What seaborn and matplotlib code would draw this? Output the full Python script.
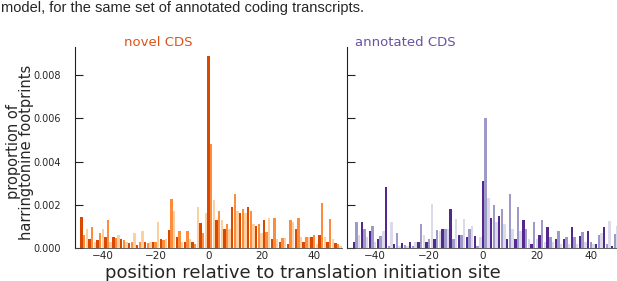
import seaborn as sns
import matplotlib.pyplot as plt
import pandas as pd

# positions relative to the start codon
positions = list(range(-48, 51))

novel_cds = [
    0.00143, 0.0006, 0.0009, 0.0004, 0.00095, 0.0003, 0.00035, 0.0007, 0.0009, 0.0005,
    0.0013, 0.0003, 0.0005, 0.00045, 0.0006, 0.0004, 0.00035, 0.0003, 0.00025, 0.0003,
    0.0007, 0.00015, 0.0003, 0.0008, 0.0003, 0.00025, 0.0003, 0.0003, 0.0003, 0.0012,
    0.0004, 0.00035, 0.0004, 0.00085, 0.00225, 0.0017, 0.0005, 0.0008, 0.0003, 0.0003,
    0.0008, 0.0004, 0.0003, 0.0002, 0.0019, 0.00115, 0.0007, 0.0016, 0.0089, 0.0048,
    0.0022, 0.0013, 0.0017, 0.0013, 0.0009, 0.0011, 0.0009, 0.0019, 0.0025, 0.0017,
    0.0016, 0.0018, 0.0016, 0.0019, 0.0017, 0.0011, 0.0010, 0.0011, 0.0007, 0.0013,
    0.00075, 0.0014, 0.0004, 0.0014, 0.0004, 0.0003, 0.00045, 0.00045, 0.0002, 0.0013,
    0.0012, 0.0009, 0.0014, 0.0005, 0.0003, 0.0005, 0.0005, 0.0005, 0.0006, 0.0002,
    0.0006, 0.0021, 0.0005, 0.0003, 0.00135, 0.0004, 0.00025, 0.0002, 0.0001,
]

annotated_cds = [
    0.0003, 0.0012, 0.0006, 0.0012, 0.0009, 0.0005, 0.0008, 0.0010, 0.0003, 0.0004,
    0.00055, 0.0008, 0.0028, 0.0001, 0.0012, 0.0002, 0.0007, 0.0001, 0.00025, 0.00015,
    0.0001, 0.0003, 0.0001, 0.0003, 0.0003, 0.0011, 0.0006, 0.0003, 0.0004, 0.00205,
    0.0004, 0.00085, 0.0008, 0.00088, 0.0009, 0.0009, 0.0018, 0.0004, 0.00135, 0.0006,
    0.0006, 0.00135, 0.0005, 0.0009, 0.0010, 0.00055, 0.0001, 0.0005, 0.0031, 0.0060,
    0.0023, 0.0014, 0.0020, 0.0012, 0.0015, 0.0018, 0.0011, 0.0004, 0.0025, 0.0009,
    0.0004, 0.0019, 0.0008, 0.0013, 0.0009, 0.0004, 0.0002, 0.0012, 0.0004, 0.0006,
    0.0013, 0.0003, 0.00095, 0.0005, 0.0003, 0.0004, 0.00077, 0.0002, 0.0004, 0.0005,
    0.0002, 0.00095, 0.0005, 0.0002, 0.00055, 0.00075, 0.0003, 0.0008, 0.0003, 0.0002,
    0.0002, 0.0006, 0.0007, 0.00095, 0.0002, 0.00125, 0.0001, 0.00065, 0.0010,
]

orange = ["#d94801", "#fd8d3c", "#fdd0a2"]
purple = ["#54278f", "#9e9ac8", "#dadaeb"]

sns.set_theme(style="white")
plt.rcParams["font.family"] = ["DejaVu Sans"]

fig = plt.figure(figsize=(6.17, 2.81), dpi=100)
ax1 = fig.add_axes([75 / 617, 33 / 281, 267 / 617, 201 / 281])
ax2 = fig.add_axes([347 / 617, 33 / 281, 272 / 617, 201 / 281])

for ax, vals, pal in [(ax1, novel_cds, orange), (ax2, annotated_cds, purple)]:
    df = pd.DataFrame({"pos": positions, "val": vals})
    df["frame"] = df["pos"] % 3
    sns.barplot(data=df, x="pos", y="val", hue="frame", palette=pal,
                native_scale=True, dodge=False, width=0.9, saturation=1,
                linewidth=0, edgecolor="none", legend=False, ax=ax)
    ax.set_xlim(-50.5, 50.5)
    ax.set_ylim(0, 0.0093)
    ax.set_xticks([-40, -20, 0, 20, 40])
    ax.set_xticklabels(["\u221240", "\u221220", "0", "20", "40"])
    ax.set_yticks([0, 0.002, 0.004, 0.006, 0.008])
    ax.set_xlabel("")
    ax.set_ylabel("")
    for s in ["top", "right"]:
        ax.spines[s].set_visible(False)
    ax.spines["left"].set_color("#222222")
    ax.spines["left"].set_linewidth(0.8)
    ax.spines["bottom"].set_color("#444444")
    ax.spines["bottom"].set_linewidth(0.6)
    ax.tick_params(axis="y", direction="in", length=6, width=0.8, pad=10,
                   color="#222222", labelsize=7, left=True)
    ax.tick_params(axis="x", length=0, pad=2.5, labelsize=7.5)

ax1.set_yticklabels(["0.000", "0.002", "0.004", "0.006", "0.008"])
ax2.set_yticklabels([])

fig.text(158 / 617, 1 - 42 / 281, "novel CDS", color="#d9541b",
         fontsize=9.5, ha="center", va="center")
fig.text(405 / 617, 1 - 42 / 281, "annotated CDS", color="#6a51a3",
         fontsize=9.5, ha="center", va="center")
fig.text(303 / 617, 1 - 278 / 281, "position relative to translation initiation site",
         fontsize=13, ha="center", va="baseline")
fig.text(20 / 617, 1 - 152 / 281, "proportion of\nharringtonine footprints",
         fontsize=10.5, rotation=90, ha="center", va="center",
         multialignment="center", linespacing=0.9)
fig.text(0.002, 1 - 1 / 281, "model, for the same set of annotated coding transcripts.",
         fontsize=10.5, family="Liberation Sans", ha="left", va="top")

fig.savefig("out.png", dpi=100)
